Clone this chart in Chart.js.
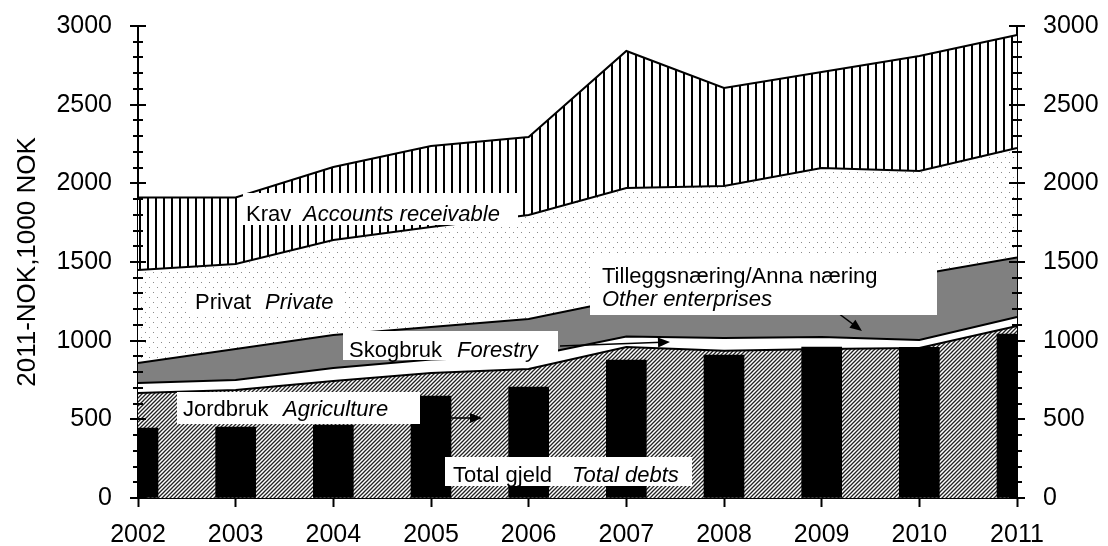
<!DOCTYPE html>
<html>
<head>
<meta charset="utf-8">
<script src="https://cdn.jsdelivr.net/npm/chart.js@4.4.1/dist/chart.umd.min.js"></script>
<style>
  html, body { margin: 0; padding: 0; background: #fff; }
</style>
</head>
<body>
<canvas id="myChart" width="1108" height="546"></canvas>
<script>
// years on the x axis
const years = ['2002', '2003', '2004', '2005', '2006', '2007', '2008', '2009', '2010', '2011'];

// stacked layers (1000 NOK, 2011 value)
const jordbruk = [667, 687, 744, 794, 820, 960, 936, 947, 953, 1093];
const skogbruk = [64, 63, 82, 86, 80, 67, 81, 76, 51, 57];
const tilleggsnaering = [127, 197, 210, 207, 238, 238, 298, 347, 416, 378];
const privat = [591, 540, 604, 635, 661, 705, 668, 728, 658, 697];
const krav = [461, 423, 464, 515, 495, 871, 623, 609, 731, 718];

// bars
const totalGjeld = [445, 451, 464, 648, 705, 877, 909, 960, 958, 1042];

const yMax = 3000;

const FONT = "'Liberation Sans', Arial, sans-serif";

function makePattern(kind) {
  const c = document.createElement('canvas');
  const g = c.getContext('2d');
  if (kind === 'hatch') {
    c.width = 4; c.height = 4;
    g.fillStyle = '#fff'; g.fillRect(0, 0, 4, 4);
    g.strokeStyle = '#222'; g.lineWidth = 1.3;
    g.beginPath();
    g.moveTo(-1, 5); g.lineTo(5, -1);
    g.moveTo(-1, 1); g.lineTo(1, -1);
    g.moveTo(3, 5); g.lineTo(5, 3);
    g.stroke();
  } else if (kind === 'vlines') {
    c.width = 8; c.height = 8;
    g.fillStyle = '#fff'; g.fillRect(0, 0, 8, 8);
    g.fillStyle = '#000'; g.fillRect(3, 0, 2, 8);
  } else if (kind === 'dots') {
    c.width = 8; c.height = 10;
    g.fillStyle = '#fff'; g.fillRect(0, 0, 8, 10);
    g.fillStyle = '#8a8a8a';
    g.fillRect(1, 2, 1, 1);
    g.fillRect(5, 7, 1, 1);
  }
  return g.createPattern(c, 'repeat');
}

function areaSet(label, data, fill, bg) {
  return {
    type: 'line',
    label: label,
    data: data,
    stack: 'areas',
    fill: fill,
    backgroundColor: bg,
    borderColor: '#000',
    borderWidth: 2,
    pointRadius: 0,
    tension: 0
  };
}

// label boxes drawn over the plot
const boxes = [
  { box: [243, 193, 518, 225], base: 221, parts: [['Krav', 246, false], ['Accounts receivable', 303, true]] },
  { box: [187, 291, 342, 313], base: 309, parts: [['Privat', 195, false], ['Private', 265, true]] },
  { box: [343, 331, 558, 360], base: 357, parts: [['Skogbruk', 349, false], ['Forestry', 457, true]] },
  { box: [177, 392, 420, 424], base: 416, parts: [['Jordbruk', 183, false], ['Agriculture', 283, true]] },
  { box: [445, 457, 692, 486], base: 482, parts: [['Total gjeld', 453, false], ['Total debts', 572, true]] },
  { box: [590, 257, 937, 315], base: 283, parts: [['Tilleggsnæring/Anna næring', 602, false]] },
  { box: null, base: 306, parts: [['Other enterprises', 602, true]] }
];
const arrows = [
  [560, 346, 670, 342],
  [451, 418, 482, 418],
  [838, 313, 862, 331]
];

function arrow(ctx, x1, y1, x2, y2) {
  const a = Math.atan2(y2 - y1, x2 - x1);
  ctx.beginPath();
  ctx.moveTo(x1, y1);
  ctx.lineTo(x2 - 8 * Math.cos(a), y2 - 8 * Math.sin(a));
  ctx.stroke();
  ctx.beginPath();
  ctx.moveTo(x2, y2);
  ctx.lineTo(x2 - 12 * Math.cos(a) + 5 * Math.sin(a), y2 - 12 * Math.sin(a) - 5 * Math.cos(a));
  ctx.lineTo(x2 - 12 * Math.cos(a) - 5 * Math.sin(a), y2 - 12 * Math.sin(a) + 5 * Math.cos(a));
  ctx.closePath();
  ctx.fill();
}

const labelPlugin = {
  id: 'labelPlugin',
  afterDatasetsDraw(chart) {
    const ctx = chart.ctx;
    ctx.save();
    ctx.strokeStyle = '#000';
    ctx.fillStyle = '#000';
    ctx.lineWidth = 1.5;
    arrows.forEach(a => arrow(ctx, a[0], a[1], a[2], a[3]));
    boxes.forEach(b => {
      if (b.box) {
        ctx.fillStyle = '#fff';
        ctx.fillRect(b.box[0], b.box[1], b.box[2] - b.box[0], b.box[3] - b.box[1]);
      }
      ctx.fillStyle = '#000';
      ctx.textBaseline = 'alphabetic';
      ctx.textAlign = 'left';
      b.parts.forEach(p => {
        ctx.font = (p[2] ? 'italic ' : '') + '22px ' + FONT;
        ctx.fillText(p[0], p[1], b.base);
      });
    });
    ctx.restore();
  },
  afterDraw(chart) {
    // tick marks crossing both value axes
    const { ctx, chartArea, scales } = chart;
    ctx.save();
    ctx.strokeStyle = '#000';
    ctx.lineWidth = 2;
    for (let v = 0; v <= yMax; v += 100) {
      const y = Math.round(scales.y.getPixelForValue(v));
      const len = v % 500 === 0 ? 8 : 5;
      [chartArea.left, chartArea.right].forEach(x => {
        ctx.beginPath();
        ctx.moveTo(x - len, y);
        ctx.lineTo(x + len, y);
        ctx.stroke();
      });
    }
    ctx.restore();
  }
};

const tickFont = { family: FONT, size: 25 };
const plainNumber = v => String(v);
// hidden tick marks only push the labels away from the axis
const yGrid = { drawOnChartArea: false, drawTicks: true, tickLength: 22, tickColor: 'rgba(0,0,0,0)' };

new Chart(document.getElementById('myChart'), {
  type: 'bar',
  data: {
    labels: years,
    datasets: [
      {
        type: 'bar',
        label: 'Total gjeld',
        data: totalGjeld,
        stack: 'debt',
        backgroundColor: '#000',
        barThickness: 40,
        clip: 0
      },
      areaSet('Jordbruk', jordbruk, 'origin', makePattern('hatch')),
      areaSet('Skogbruk', skogbruk, '-1', '#fff'),
      areaSet('Tilleggsnæring', tilleggsnaering, '-1', '#808080'),
      areaSet('Privat', privat, '-1', makePattern('dots')),
      areaSet('Krav', krav, '-1', makePattern('vlines'))
    ]
  },
  options: {
    responsive: false,
    animation: false,
    devicePixelRatio: 1,
    layout: { padding: { top: 26, left: 0, right: 0, bottom: 0 } },
    plugins: { legend: { display: false }, tooltip: { enabled: false } },
    scales: {
      x: {
        offset: false,
        grid: { offset: false, drawOnChartArea: false, tickLength: 9, tickColor: '#000', tickWidth: 2 },
        border: { color: '#000', width: 2 },
        ticks: { color: '#000', font: tickFont, padding: 13, maxRotation: 0 },
        afterFit: s => { s.height = 48; }
      },
      y: {
        stacked: true,
        min: 0,
        max: yMax,
        grid: yGrid,
        border: { color: '#000', width: 2 },
        ticks: { stepSize: 500, color: '#000', font: tickFont, padding: 4, callback: plainNumber },
        title: { display: true, text: '2011-NOK,1000 NOK', color: '#000', font: { family: FONT, size: 26 }, padding: { top: 12 } },
        afterFit: s => { s.width = 138; }
      },
      y2: {
        position: 'right',
        min: 0,
        max: yMax,
        grid: yGrid,
        border: { color: '#000', width: 2 },
        ticks: { stepSize: 500, color: '#000', font: tickFont, padding: 4, callback: plainNumber },
        afterFit: s => { s.width = 91; }
      }
    }
  },
  plugins: [labelPlugin]
});
</script>
</body>
</html>
